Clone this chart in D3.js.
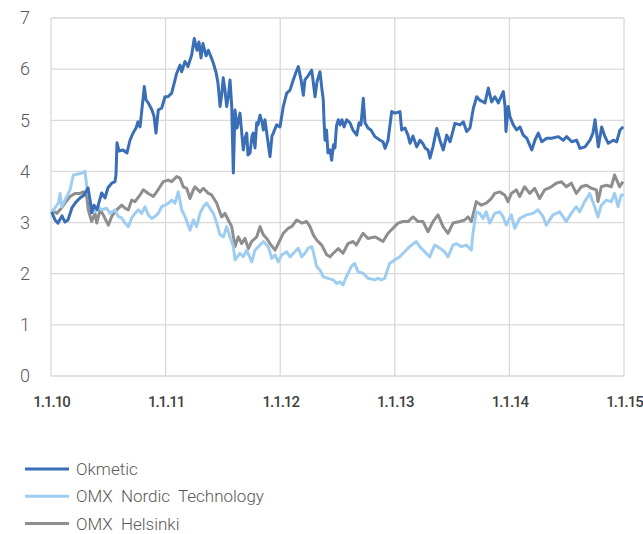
<!DOCTYPE html>
<html><head><meta charset="utf-8">
<script src="https://cdn.jsdelivr.net/npm/d3@7"></script>
<style>
html,body{margin:0;padding:0;background:#fff;}
svg{display:block;}
</style></head>
<body>
<svg id="chart" width="643" height="534"></svg>
<script>
// ---- data (decimal year, value) ----
const seriesNames = ["Okmetic", "OMX Nordic Technology", "OMX Helsinki"];
const xTickValues = [2010, 2011, 2012, 2013, 2014, 2015];
const xTickLabels = ["1.1.10", "1.1.11", "1.1.12", "1.1.13", "1.1.14", "1.1.15"];
const yTickValues = [0, 1, 2, 3, 4, 5, 6, 7];

const okmetic = [
[2010.006,3.21],[2010.035,3.05],[2010.061,2.99],[2010.096,3.13],[2010.122,3.01],[2010.148,3.05],[2010.183,3.29],[2010.218,3.40],[2010.253,3.48],[2010.288,3.54],[2010.323,3.68],[2010.340,3.44],[2010.355,3.19],[2010.375,3.34],[2010.401,3.25],[2010.442,3.58],[2010.471,3.48],[2010.497,3.68],[2010.530,3.77],[2010.558,3.80],[2010.567,3.93],[2010.576,4.56],[2010.593,4.40],[2010.628,4.42],[2010.663,4.36],[2010.689,4.61],[2010.716,4.75],[2010.742,4.85],[2010.759,4.97],[2010.777,4.87],[2010.805,5.46],[2010.814,5.66],[2010.829,5.40],[2010.849,5.34],[2010.881,5.20],[2010.899,5.08],[2010.916,4.75],[2010.936,5.20],[2010.966,5.24],[2010.995,5.46],[2011.021,5.46],[2011.053,5.53],[2011.097,5.92],[2011.126,6.08],[2011.140,5.95],[2011.169,6.15],[2011.195,6.05],[2011.228,6.28],[2011.250,6.60],[2011.274,6.37],[2011.291,6.53],[2011.309,6.22],[2011.326,6.50],[2011.353,6.26],[2011.373,6.37],[2011.396,6.24],[2011.416,6.12],[2011.440,5.94],[2011.457,5.73],[2011.475,5.27],[2011.489,5.49],[2011.503,5.83],[2011.518,5.59],[2011.533,5.27],[2011.549,5.49],[2011.562,5.79],[2011.577,5.27],[2011.591,3.97],[2011.606,5.20],[2011.623,4.85],[2011.649,5.14],[2011.678,4.42],[2011.693,4.65],[2011.708,4.75],[2011.719,4.32],[2011.736,4.36],[2011.754,4.69],[2011.765,4.75],[2011.780,4.46],[2011.795,4.95],[2011.806,4.91],[2011.824,5.10],[2011.841,4.97],[2011.853,4.81],[2011.867,5.01],[2011.885,4.71],[2011.911,4.29],[2011.928,4.69],[2011.940,4.75],[2011.969,4.91],[2011.998,4.87],[2012.027,5.27],[2012.057,5.53],[2012.086,5.59],[2012.114,5.79],[2012.138,5.94],[2012.158,6.05],[2012.182,5.79],[2012.202,5.49],[2012.216,5.79],[2012.243,5.87],[2012.275,5.98],[2012.286,5.79],[2012.304,5.46],[2012.321,5.75],[2012.347,5.95],[2012.365,5.59],[2012.376,5.40],[2012.382,5.01],[2012.391,4.61],[2012.404,4.81],[2012.417,4.36],[2012.435,4.42],[2012.449,4.22],[2012.465,4.52],[2012.478,4.46],[2012.491,4.89],[2012.507,5.01],[2012.522,4.91],[2012.539,5.01],[2012.557,4.87],[2012.580,5.01],[2012.609,4.95],[2012.635,4.81],[2012.668,4.71],[2012.688,4.95],[2012.705,4.91],[2012.725,5.43],[2012.740,4.95],[2012.766,4.85],[2012.792,4.81],[2012.827,4.68],[2012.871,4.61],[2012.897,4.58],[2012.915,4.45],[2012.941,4.61],[2012.973,5.17],[2013.002,5.14],[2013.045,5.17],[2013.060,4.81],[2013.089,4.85],[2013.115,4.71],[2013.133,4.55],[2013.159,4.69],[2013.191,4.48],[2013.220,4.61],[2013.246,4.54],[2013.264,4.46],[2013.290,4.42],[2013.307,4.26],[2013.333,4.48],[2013.366,4.84],[2013.394,4.61],[2013.423,4.42],[2013.453,4.71],[2013.482,4.58],[2013.525,4.94],[2013.569,4.91],[2013.598,4.97],[2013.627,4.78],[2013.656,4.85],[2013.685,5.23],[2013.715,5.46],[2013.743,5.39],[2013.772,5.36],[2013.787,5.34],[2013.816,5.63],[2013.845,5.36],[2013.874,5.46],[2013.903,5.34],[2013.947,5.56],[2013.962,5.27],[2013.970,4.78],[2013.990,5.27],[2014.005,5.07],[2014.034,4.91],[2014.063,4.81],[2014.092,4.87],[2014.121,4.71],[2014.151,4.65],[2014.195,4.42],[2014.223,4.61],[2014.252,4.75],[2014.282,4.58],[2014.326,4.65],[2014.369,4.65],[2014.427,4.68],[2014.470,4.61],[2014.500,4.68],[2014.544,4.58],[2014.587,4.61],[2014.616,4.45],[2014.660,4.48],[2014.703,4.61],[2014.729,4.75],[2014.747,5.01],[2014.776,4.48],[2014.805,4.87],[2014.834,4.68],[2014.863,4.55],[2014.907,4.61],[2014.936,4.58],[2014.965,4.81],[2014.994,4.87]
];

const nordicTech = [
[2010.006,3.18],[2010.035,3.29],[2010.064,3.38],[2010.079,3.57],[2010.093,3.31],[2010.122,3.44],[2010.166,3.64],[2010.195,3.93],[2010.236,3.95],[2010.271,3.97],[2010.297,4.00],[2010.312,3.70],[2010.325,3.58],[2010.355,3.31],[2010.384,3.21],[2010.410,3.31],[2010.442,3.25],[2010.486,3.28],[2010.515,3.18],[2010.558,3.25],[2010.585,3.12],[2010.617,3.09],[2010.646,2.99],[2010.675,2.92],[2010.704,3.09],[2010.733,3.18],[2010.762,3.25],[2010.791,3.18],[2010.820,3.31],[2010.849,3.15],[2010.879,3.08],[2010.908,3.12],[2010.936,3.18],[2010.966,3.31],[2010.995,3.34],[2011.024,3.38],[2011.053,3.44],[2011.082,3.38],[2011.111,3.60],[2011.140,3.25],[2011.169,3.12],[2011.213,2.85],[2011.242,3.05],[2011.271,2.92],[2011.300,3.18],[2011.329,3.31],[2011.359,3.38],[2011.387,3.28],[2011.416,3.18],[2011.446,2.99],[2011.475,2.76],[2011.504,2.72],[2011.533,2.92],[2011.562,2.72],[2011.591,2.53],[2011.606,2.27],[2011.649,2.40],[2011.678,2.33],[2011.708,2.46],[2011.751,2.23],[2011.780,2.46],[2011.824,2.56],[2011.853,2.63],[2011.896,2.53],[2011.926,2.30],[2011.955,2.37],[2011.983,2.23],[2012.013,2.37],[2012.057,2.43],[2012.086,2.33],[2012.129,2.43],[2012.158,2.50],[2012.188,2.33],[2012.216,2.40],[2012.245,2.50],[2012.275,2.53],[2012.289,2.43],[2012.318,2.14],[2012.347,2.07],[2012.376,1.94],[2012.417,1.91],[2012.463,1.88],[2012.493,1.81],[2012.522,1.84],[2012.548,1.78],[2012.577,1.94],[2012.620,2.14],[2012.650,2.20],[2012.679,2.04],[2012.723,2.01],[2012.766,1.91],[2012.825,1.88],[2012.853,1.91],[2012.882,1.88],[2012.912,1.91],[2012.955,2.20],[2012.999,2.27],[2013.043,2.33],[2013.072,2.40],[2013.130,2.53],[2013.188,2.63],[2013.217,2.53],[2013.261,2.43],[2013.304,2.33],[2013.348,2.56],[2013.392,2.50],[2013.435,2.43],[2013.464,2.33],[2013.508,2.56],[2013.537,2.59],[2013.580,2.53],[2013.624,2.56],[2013.668,2.46],[2013.682,2.79],[2013.711,3.21],[2013.741,3.18],[2013.770,3.08],[2013.798,3.21],[2013.828,2.99],[2013.872,3.18],[2013.915,3.21],[2013.944,3.12],[2013.973,2.95],[2014.017,3.15],[2014.046,2.89],[2014.090,3.08],[2014.148,3.15],[2014.206,3.18],[2014.250,3.25],[2014.293,3.12],[2014.322,2.95],[2014.380,3.15],[2014.439,3.21],[2014.497,3.02],[2014.540,3.18],[2014.584,3.31],[2014.613,3.21],[2014.657,3.41],[2014.701,3.57],[2014.744,3.31],[2014.773,3.11],[2014.802,3.34],[2014.846,3.44],[2014.889,3.41],[2014.918,3.57],[2014.948,3.31],[2014.976,3.54],[2015.000,3.54]
];

const omxHelsinki = [
[2010.006,3.25],[2010.050,3.18],[2010.079,3.25],[2010.122,3.38],[2010.166,3.51],[2010.209,3.57],[2010.253,3.57],[2010.282,3.60],[2010.312,3.51],[2010.325,3.25],[2010.355,3.02],[2010.384,3.18],[2010.399,2.99],[2010.428,3.25],[2010.456,3.15],[2010.500,2.95],[2010.530,3.12],[2010.573,3.25],[2010.617,3.34],[2010.646,3.28],[2010.675,3.25],[2010.704,3.44],[2010.733,3.41],[2010.777,3.54],[2010.805,3.64],[2010.849,3.57],[2010.893,3.51],[2010.922,3.60],[2010.951,3.70],[2010.980,3.80],[2011.024,3.83],[2011.053,3.80],[2011.097,3.90],[2011.126,3.87],[2011.154,3.70],[2011.184,3.67],[2011.213,3.47],[2011.242,3.64],[2011.256,3.70],[2011.300,3.60],[2011.329,3.67],[2011.373,3.57],[2011.402,3.54],[2011.446,3.38],[2011.489,3.11],[2011.518,3.18],[2011.547,3.05],[2011.577,2.92],[2011.606,2.53],[2011.634,2.72],[2011.664,2.59],[2011.693,2.69],[2011.722,2.49],[2011.751,2.63],[2011.795,2.72],[2011.824,2.92],[2011.853,2.76],[2011.882,2.69],[2011.911,2.59],[2011.955,2.46],[2011.983,2.59],[2012.027,2.79],[2012.071,2.89],[2012.100,2.92],[2012.144,3.05],[2012.188,2.99],[2012.231,3.02],[2012.260,2.92],[2012.289,2.76],[2012.318,2.66],[2012.362,2.56],[2012.406,2.37],[2012.435,2.33],[2012.463,2.40],[2012.507,2.49],[2012.548,2.40],[2012.592,2.59],[2012.635,2.63],[2012.664,2.56],[2012.723,2.79],[2012.766,2.69],[2012.825,2.72],[2012.853,2.69],[2012.897,2.63],[2012.941,2.79],[2012.984,2.89],[2013.028,2.99],[2013.072,3.02],[2013.115,3.02],[2013.159,3.11],[2013.203,3.02],[2013.246,3.02],[2013.290,2.82],[2013.333,3.02],[2013.377,3.15],[2013.421,2.92],[2013.464,2.79],[2013.508,2.99],[2013.566,3.02],[2013.610,3.05],[2013.639,3.11],[2013.668,3.02],[2013.711,3.41],[2013.755,3.34],[2013.798,3.38],[2013.842,3.47],[2013.872,3.57],[2013.915,3.60],[2013.959,3.54],[2013.988,3.41],[2014.017,3.57],[2014.060,3.64],[2014.090,3.51],[2014.133,3.70],[2014.177,3.57],[2014.221,3.67],[2014.264,3.47],[2014.308,3.64],[2014.366,3.70],[2014.409,3.77],[2014.453,3.80],[2014.497,3.70],[2014.540,3.77],[2014.584,3.57],[2014.628,3.70],[2014.672,3.73],[2014.715,3.67],[2014.759,3.64],[2014.773,3.41],[2014.802,3.70],[2014.846,3.73],[2014.889,3.70],[2014.918,3.93],[2014.948,3.77],[2014.962,3.70],[2014.991,3.80]
];

const seriesColors = ["#3a6fb8", "#9fcdf1", "#8e8e8e"];

// ---- drawing ----
const svg = d3.select("#chart");
const margin = {left: 51, right: 19, top: 18, bottom: 158};
const W = 643, H = 534;
const x = d3.scaleLinear().domain([2010, 2015]).range([margin.left, W - margin.right]);
const y = d3.scaleLinear().domain([0, 7]).range([H - margin.bottom, margin.top]);

const grid = svg.append("g");
grid.selectAll("line.h").data(yTickValues).join("line")
  .attr("x1", x(2010)).attr("x2", x(2015))
  .attr("y1", d => y(d)).attr("y2", d => y(d))
  .attr("stroke", "#d9d9d9").attr("stroke-width", 1.3);
grid.selectAll("line.v").data(xTickValues).join("line")
  .attr("y1", y(0)).attr("y2", y(7))
  .attr("x1", d => x(d)).attr("x2", d => x(d))
  .attr("stroke", "#d9d9d9").attr("stroke-width", 1.3);

const yAxis = d3.axisLeft(y).tickValues(yTickValues).tickSize(0).tickPadding(21).tickFormat(d3.format("d"));
const gy = svg.append("g").attr("transform", `translate(${margin.left},0)`).call(yAxis);
gy.select(".domain").remove();
gy.selectAll("text").attr("font-family", "Roboto, sans-serif").attr("font-size", 18)
  .attr("fill", "#595959").attr("font-weight", 300);

const xAxis = d3.axisBottom(x).tickValues(xTickValues).tickSize(0).tickPadding(20)
  .tickFormat((d, i) => xTickLabels[i]);
const gx = svg.append("g").attr("transform", `translate(0,${y(0)})`).call(xAxis);
gx.select(".domain").remove();
gx.selectAll("text").attr("font-family", "Roboto, sans-serif").attr("font-size", 15)
  .attr("fill", "#3f3f3f").attr("font-weight", 500).attr("letter-spacing", "-1px");

const line = d3.line().x(d => x(d[0])).y(d => y(d[1]));
const allSeries = [okmetic, nordicTech, omxHelsinki];
const drawOrder = [2, 1, 0];
drawOrder.forEach(i => {
  svg.append("path").datum(allSeries[i])
    .attr("fill", "none").attr("stroke", seriesColors[i])
    .attr("stroke-width", 3).attr("stroke-linejoin", "round")
    .attr("d", line);
});

// legend
const leg = svg.append("g").attr("transform", "translate(25,469)");
seriesNames.forEach((name, i) => {
  const g = leg.append("g").attr("transform", `translate(0,${i * 27.3})`);
  g.append("line").attr("x1", 0).attr("x2", 44).attr("y1", 0).attr("y2", 0)
    .attr("stroke", seriesColors[i]).attr("stroke-width", 3);
  g.append("text").attr("x", 51).attr("y", 0).attr("dy", "0.35em")
    .attr("font-family", "Roboto, sans-serif").attr("font-size", 17)
    .attr("font-weight", 300).attr("fill", "#595959").attr("word-spacing", "4px")
    .text(name);
});
</script>
</body></html>
